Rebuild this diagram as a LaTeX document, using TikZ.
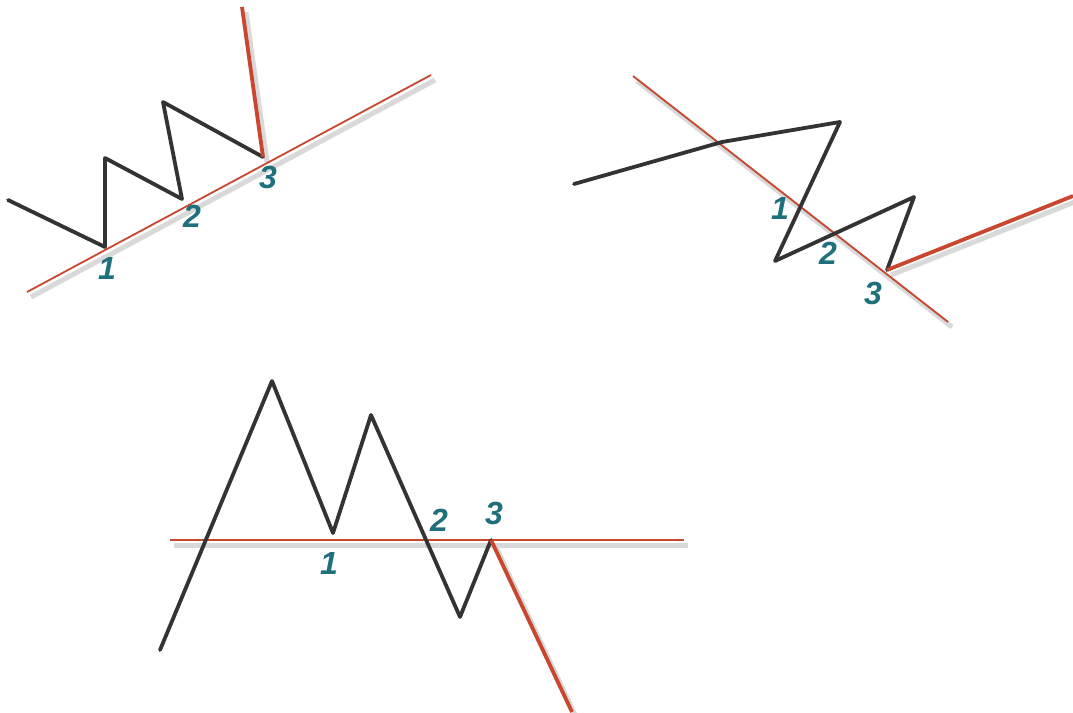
\documentclass[tikz,border=0pt]{standalone}
\usepackage{fontspec}
\setsansfont{Liberation Sans}
\usetikzlibrary{calc}
\definecolor{Wc}{HTML}{333333}
\definecolor{Rc}{HTML}{C8472E}
\definecolor{Nc}{HTML}{1F6F7C}

\begin{document}
\begin{tikzpicture}[x=1pt, y=-1pt,
    wave/.style={draw=Wc, line width=3.8pt, line join=round, line cap=round},
    trend/.style={draw=Rc, line width=1.8pt},
    brk/.style={draw=Rc, line width=3.8pt},
    shade/.style={draw=black!15, line width=5pt, transform canvas={shift={(4,5)}}},
    num/.style={text=Nc, font=\fontsize{32}{32}\selectfont\sffamily\bfseries\itshape, inner sep=0pt}]
  \useasboundingbox (0,0) rectangle (1073,712);
  % rising channel, top left
  \coordinate (a0) at (8,200);   \coordinate (a1) at (105,247);
  \coordinate (a2) at (105,158); \coordinate (a3) at (182,199);
  \coordinate (a4) at (163,102); \coordinate (a5) at (263,157);
  \coordinate (aL) at (27,292);  \coordinate (aR) at (431,75);
  \coordinate (aX) at (242,7);
  \draw[shade] (aL) -- (aR);
  \draw[shade] (a5) -- (aX);
  \draw[trend] (aL) -- (aR);
  \draw[wave] (a0) -- (a1) -- (a2) -- (a3) -- (a4) -- (a5);
  \draw[brk] (a5) -- (aX);
  \node[num] (a1n) at (107,268) {1};
  \node[num] (a3n) at (192,216) {2};
  \node[num] (a5n) at (268,177) {3};
  % falling channel, top right
  \coordinate (b0) at (574,184); \coordinate (b1) at (722,142);
  \coordinate (b2) at (840,122); \coordinate (b3) at (775,261);
  \coordinate (b4) at (914,197); \coordinate (b5) at (887,270);
  \coordinate (bL) at (633,76);  \coordinate (bR) at (948,322);
  \coordinate (bX) at (1073,196);
  \draw[shade] (bL) -- (bR);
  \draw[shade] (b5) -- (bX);
  \draw[trend] (bL) -- (bR);
  \draw[wave] (b0) -- (b1) -- (b2) -- (b3) -- (b4) -- (b5);
  \draw[brk] (b5) -- (bX);
  \node[num] (b1n) at (780,208) {1};
  \node[num] (b3n) at (828,253) {2};
  \node[num] (b5n) at (873,293) {3};
  % flat line, bottom
  \coordinate (c0) at (160,650); \coordinate (c1) at (272,381);
  \coordinate (c2) at (333,533); \coordinate (c3) at (371,415);
  \coordinate (c4) at (460,617); \coordinate (c5) at (491,540);
  \coordinate (cL) at (170,540); \coordinate (cR) at (684,540);
  \coordinate (cX) at (572,712);
  \draw[shade] (cL) -- (cR);
  \draw[shade] (c5) -- (cX);
  \draw[trend] (cL) -- (cR);
  \draw[wave] (c0) -- (c1) -- (c2) -- (c3) -- (c4) -- (c5);
  \draw[brk] (c5) -- (cX);
  \node[num] (c2n) at (329,563) {1};
  \node[num] (c3n) at (439,520) {2};
  \node[num] (c5n) at (494,513) {3};
\end{tikzpicture}
\end{document}
